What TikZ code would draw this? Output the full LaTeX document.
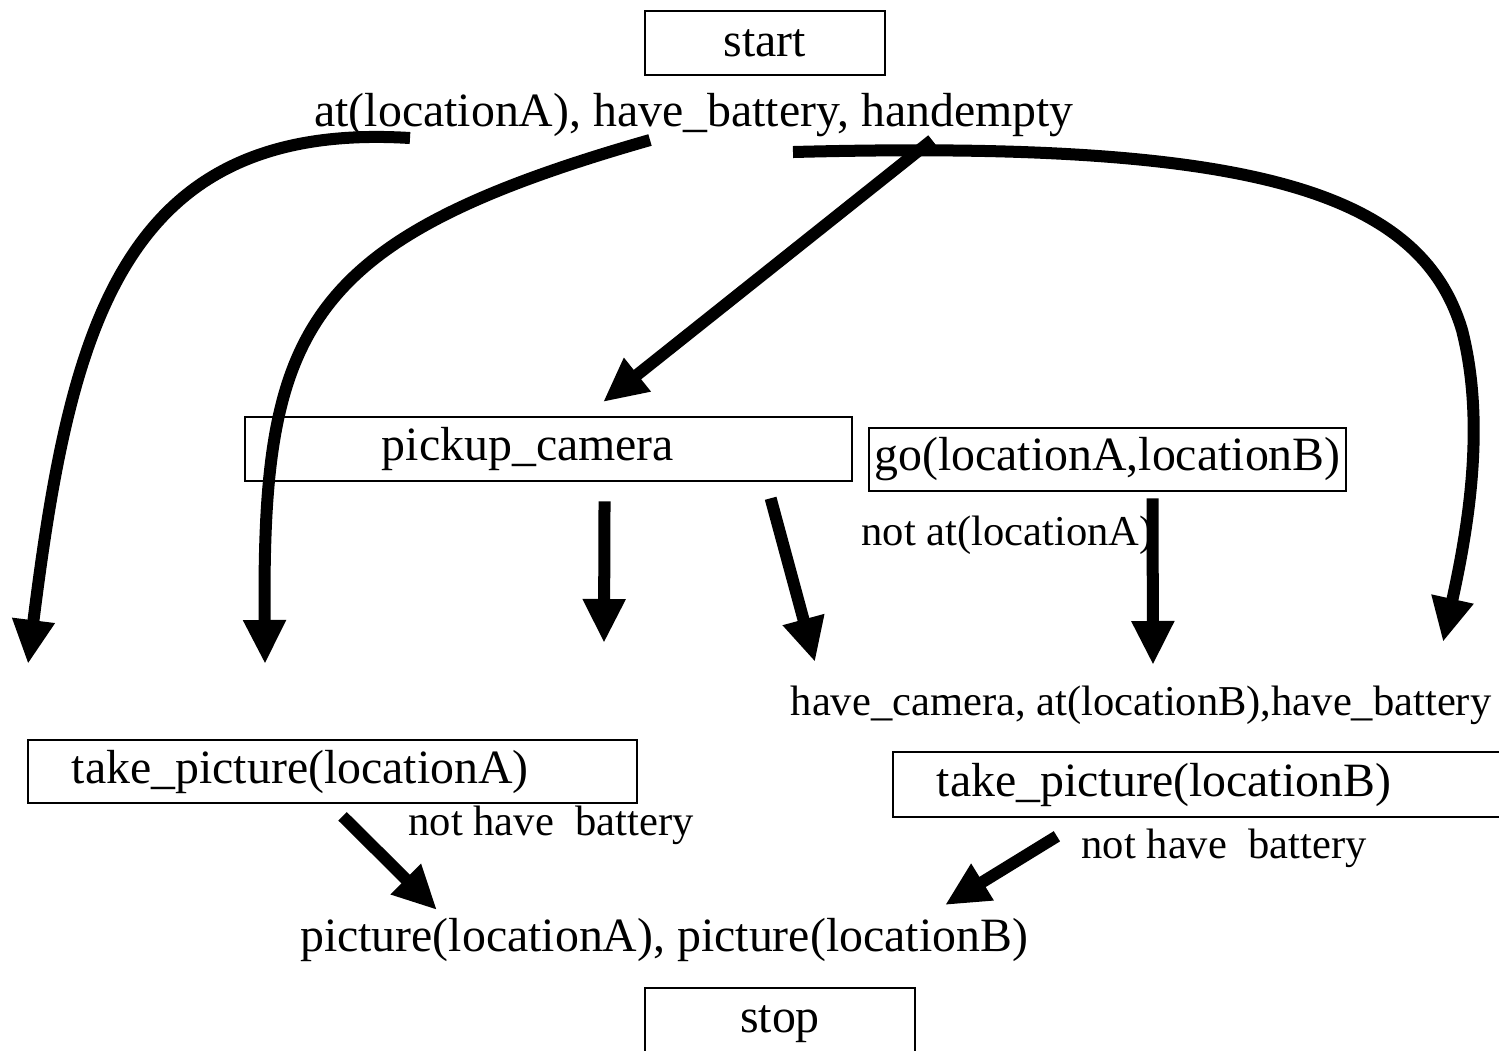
\documentclass[tikz,border=0pt]{standalone}
\usepackage{fontspec}
\setmainfont{Liberation Serif}
\usetikzlibrary{arrows.meta}
\newcommand{\planfont}{\fontsize{13.6pt}{16pt}\selectfont}
\newcommand{\notefont}{\fontsize{12.1pt}{14pt}\selectfont}

\begin{document}
\begin{tikzpicture}[x=0.01cm, y=-0.01cm,
  box/.style={draw, line width=0.7pt, inner sep=0pt, font=\planfont},
  lbl/.style={inner sep=0pt, font=\planfont},
  note/.style={inner sep=0pt, font=\notefont},
  flow/.style={line width=0.12cm, -{Triangle[length=0.44cm, width=0.4cm]}}]
\useasboundingbox (0,0) rectangle (1499,1050);
%\draw[help lines, color=gray!30, dashed] (0,0) grid[step=1cm] (1499,1050);
\node[box, minimum width=2.4cm, minimum height=0.64cm] (start) at (765,43) {start};
\node[lbl] (init) at (694,115) {at(locationA), have\_battery, handempty};
\node[box, align=left, text width=3.33cm, inner xsep=1.37cm, minimum height=0.64cm] (pickup) at (548.5,449) {pickup\_camera};
\node[box, minimum width=4.77cm, minimum height=0.63cm] (go) at (1107.5,459.5) {go(locationA,locationB)};
\node[note, anchor=west] (notat) at (861,535) {not at(locationA)};
\node[note] (mid) at (1141,705) {have\_camera, at(locationB),have\_battery};
\node[box, align=left, text width=5.21cm, inner xsep=0.44cm, minimum height=0.63cm] (takeA) at (332.5,771.5) {take\_picture(locationA)};
\node[box, align=left, text width=5.54cm, inner xsep=0.44cm, minimum height=0.65cm] (takeB) at (1214,784.5) {take\_picture(locationB)};
\node[note, anchor=west] (nobatA) at (408,825) {not have\ \ battery};
\node[note, anchor=west] (nobatB) at (1081,848) {not have\ \ battery};
\node[lbl] (goal) at (664,940) {picture(locationA), picture(locationB)};
\node[box, minimum width=2.7cm, minimum height=0.72cm] (stop) at (780,1024) {stop};

% loose ends of the arrows
\coordinate (s1) at (410,138);
\coordinate (s2) at (650,140);
\coordinate (s3) at (932,140);
\coordinate (s4) at (793,152);
\coordinate (e1) at (28,664);
\coordinate (e2) at (265,664);
\coordinate (e3) at (603,402);
\coordinate (e4) at (604,643);
\coordinate (e5) at (815,662);
\coordinate (e6) at (1153,665);
\coordinate (e7) at (1443,642);
\coordinate (e8) at (437,910);
\coordinate (e9) at (945,905);

\draw[flow] (s1) .. controls (120,120) and (70,330) .. (e1);
\draw[flow] (s2) .. controls (300,240) and (262,330) .. (e2);
\draw[flow] (s3) -- (e3);
\draw[flow] (s4) .. controls (1250,140) and (1420,190) .. (1462,330) .. controls (1485,420) and (1470,520) .. (e7);
\draw[flow] ([xshift=0.56cm, yshift=-0.19cm]pickup.south) -- (e4);
\draw[flow] ([xshift=2.22cm, yshift=-0.16cm]pickup.south) -- (e5);
\draw[flow] ([xshift=0.45cm, yshift=-0.06cm]go.south) -- (e6);
\draw[flow] ([xshift=0.1cm, yshift=-0.12cm]takeA.south) -- (e8);
\draw[flow] ([xshift=-1.57cm, yshift=-0.18cm]takeB.south) -- (e9);
\end{tikzpicture}
\end{document}
